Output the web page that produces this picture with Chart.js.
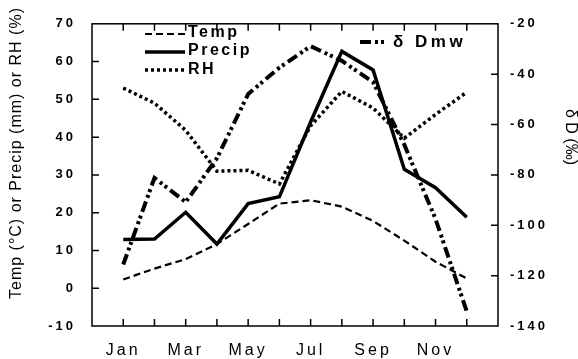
<!DOCTYPE html>
<html>
<head>
<meta charset="utf-8">
<script src="https://cdn.jsdelivr.net/npm/chart.js@4.4.0/dist/chart.umd.min.js"></script>
<style>
  body { margin: 0; background: #fff; }
</style>
</head>
<body>
<canvas id="grafico" width="578" height="359"></canvas>
<script>
// Dados (valores mensais)
const meses = [1, 2, 3, 4, 5, 6, 7, 8, 9, 10, 11, 12];
const rotulosMeses = ['Jan', 'Feb', 'Mar', 'Apr', 'May', 'Jun', 'Jul', 'Aug', 'Sep', 'Oct', 'Nov', 'Dec'];
const temp = [2.3, 5.2, 7.7, 11.7, 17.0, 22.4, 23.3, 21.6, 17.8, 12.6, 7.0, 2.6];
const precip = [12.9, 13.0, 20.1, 11.7, 22.4, 24.2, 44.0, 62.7, 57.8, 31.5, 26.6, 18.8];
const rh = [53.0, 49.0, 41.8, 31.0, 31.2, 27.6, 43.0, 52.1, 47.7, 39.7, 46.0, 51.9];
const dDmw = [-115.6, -81.2, -90.8, -73.4, -47.9, -37.4, -28.9, -34.7, -43.2, -68.0, -97.5, -134.2];

const fonte = 'Arial, "Liberation Sans", Helvetica, sans-serif';

function pontos(valores) {
  return meses.map((m, i) => ({ x: m, y: valores[i] }));
}

// Moldura, ticks internos, legenda e títulos dos eixos
const extras = {
  id: 'extras',
  beforeDraw(chart) {
    chart.ctx.letterSpacing = '3px';
  },
  afterDraw(chart) {
    const { ctx, chartArea: a, scales } = chart;
    ctx.save();
    ctx.strokeStyle = '#000';
    ctx.lineWidth = 1.5;
    ctx.setLineDash([]);
    ctx.strokeRect(a.left, a.top, a.right - a.left, a.bottom - a.top);

    const t = 7;
    ctx.beginPath();
    meses.forEach(m => {
      const x = scales.x.getPixelForValue(m);
      ctx.moveTo(x, a.bottom); ctx.lineTo(x, a.bottom - t);
      ctx.moveTo(x, a.top); ctx.lineTo(x, a.top + t);
    });
    scales.y.ticks.forEach(tk => {
      if (tk.value > scales.y.min && tk.value < scales.y.max) {
        const y = scales.y.getPixelForValue(tk.value);
        ctx.moveTo(a.left, y); ctx.lineTo(a.left + t, y);
      }
    });
    scales.y2.ticks.forEach(tk => {
      if (tk.value > scales.y2.min && tk.value < scales.y2.max) {
        const y = scales.y2.getPixelForValue(tk.value);
        ctx.moveTo(a.right, y); ctx.lineTo(a.right - t, y);
      }
    });
    ctx.stroke();

    // Legenda
    const ds = chart.data.datasets;
    const itens = [
      { d: ds[0], x1: 145, x2: 185, yl: 34, tx: 188, ty: 33, f: 16, s: 2.5 },
      { d: ds[1], x1: 145, x2: 185, yl: 52, tx: 188, ty: 51, f: 16, s: 2.5 },
      { d: ds[2], x1: 145, x2: 185, yl: 70, tx: 188, ty: 70, f: 16, s: 2.5 },
      { d: ds[3], x1: 360, x2: 388, yl: 42, tx: 393, ty: 42, f: 17, s: 3.5 }
    ];
    itens.forEach(it => {
      ctx.save();
      ctx.lineWidth = it.d.borderWidth;
      ctx.setLineDash(it.d.borderDash || []);
      ctx.beginPath();
      ctx.moveTo(it.x1, it.yl); ctx.lineTo(it.x2, it.yl);
      ctx.stroke();
      ctx.restore();
      ctx.fillStyle = '#000';
      ctx.font = 'bold ' + it.f + 'px ' + fonte;
      ctx.letterSpacing = it.s + 'px';
      ctx.textBaseline = 'middle';
      ctx.textAlign = 'left';
      ctx.fillText(it.d.label, it.tx, it.ty);
    });

    // Títulos dos eixos
    ctx.font = '16px ' + fonte;
    ctx.letterSpacing = '1px';
    ctx.textAlign = 'center';
    ctx.textBaseline = 'middle';
    ctx.save();
    ctx.translate(17, 153);
    ctx.rotate(-Math.PI / 2);
    ctx.fillText('Temp (°C) or Precip (mm) or RH (%)', 0, 0);
    ctx.restore();

    ctx.letterSpacing = '0px';
    ctx.save();
    ctx.translate(570, 137);
    ctx.rotate(Math.PI / 2);
    ctx.fillText('δ D (‰)', 0, 0);
    ctx.restore();
    ctx.restore();
  }
};

const ctx = document.getElementById('grafico').getContext('2d');
const grafico = new Chart(ctx, {
  type: 'line',
  data: {
    datasets: [{
      label: 'Temp',
      data: pontos(temp),
      borderColor: '#000',
      borderWidth: 2.2,
      borderDash: [7, 4],
      yAxisID: 'y'
    }, {
      label: 'Precip',
      data: pontos(precip),
      borderColor: '#000',
      borderWidth: 3.5,
      yAxisID: 'y'
    }, {
      label: 'RH',
      data: pontos(rh),
      borderColor: '#000',
      borderWidth: 3.5,
      borderDash: [3, 3],
      yAxisID: 'y'
    }, {
      label: 'δ Dmw',
      data: pontos(dDmw),
      borderColor: '#000',
      borderWidth: 4,
      borderDash: [11, 4, 3, 3, 3, 4],
      yAxisID: 'y2'
    }]
  },
  options: {
    responsive: false,
    animation: false,
    devicePixelRatio: 1,
    elements: { point: { radius: 0 }, line: { tension: 0 } },
    layout: { padding: { top: 14, left: 0, right: 0, bottom: 0 } },
    plugins: { legend: { display: false }, tooltip: { enabled: false } },
    scales: {
      x: {
        type: 'linear',
        min: 0,
        max: 13,
        grid: { display: false, drawTicks: false },
        border: { display: false },
        ticks: {
          stepSize: 1,
          autoSkip: false,
          maxRotation: 0,
          padding: 15,
          color: '#000',
          font: { family: fonte, size: 16 },
          callback: v => (v >= 1 && v <= 12 && v % 2 === 1) ? rotulosMeses[v - 1] : ''
        },
        afterFit: s => { s.height = 33; }
      },
      y: {
        position: 'left',
        min: -10,
        max: 70,
        grid: { display: false, drawTicks: false },
        border: { display: false },
        ticks: {
          stepSize: 10,
          padding: 16,
          color: '#000',
          font: { family: fonte, size: 13, weight: 'bold' }
        },
        afterFit: s => { s.width = 92; }
      },
      y2: {
        position: 'right',
        min: -140,
        max: -20,
        grid: { display: false, drawTicks: false },
        border: { display: false },
        ticks: {
          stepSize: 20,
          padding: 12,
          color: '#000',
          font: { family: fonte, size: 13, weight: 'bold' }
        },
        afterFit: s => { s.width = 80; }
      }
    }
  },
  plugins: [extras]
});
</script>
</body>
</html>
